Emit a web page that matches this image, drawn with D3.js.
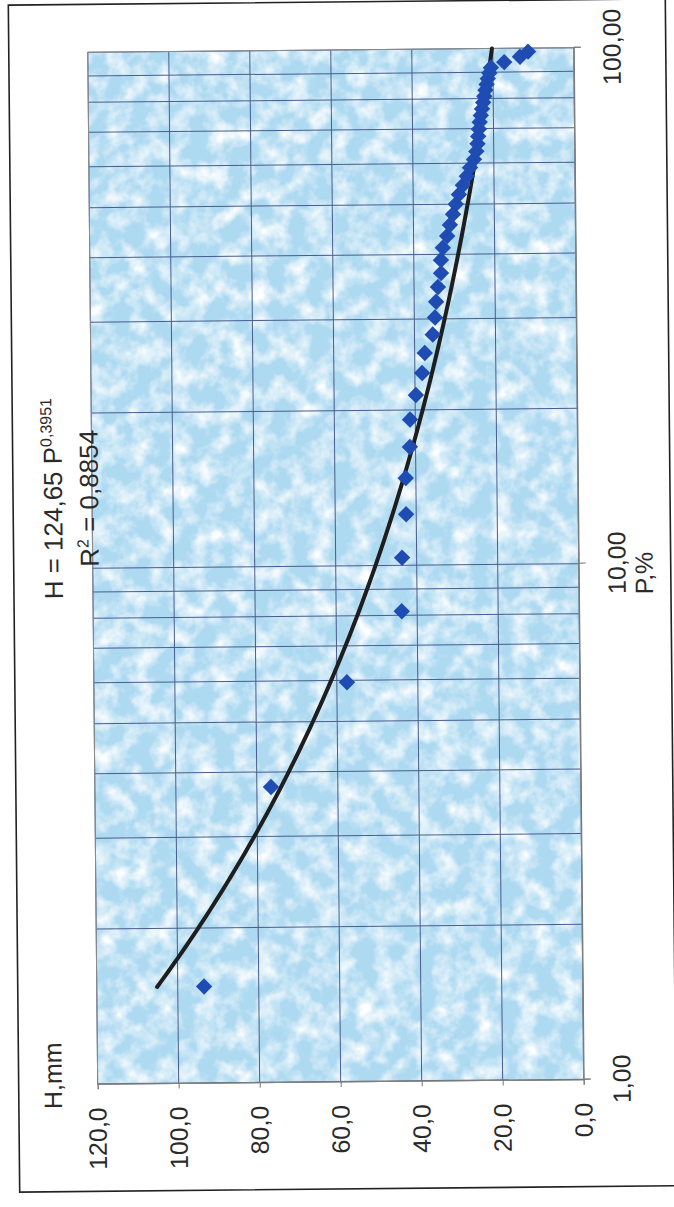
<!DOCTYPE html>
<html>
<head>
<meta charset="utf-8">
<script src="https://cdn.jsdelivr.net/npm/d3@7"></script>
<style>
  body { margin: 0; background: #fff; }
  text { font-family: "Liberation Sans", Arial, sans-serif; fill: #2a2a2a; }
</style>
</head>
<body>
<div class="canvas"></div>
<script>
// exceedance probability P,%
const pValues = [1.54, 3.74, 5.95, 8.15, 10.35, 12.56, 14.76, 16.96, 19.16, 21.37,
  23.57, 25.77, 27.97, 30.18, 32.38, 34.58, 36.78, 38.99, 41.19, 43.39,
  45.59, 47.80, 50.00, 52.20, 54.41, 56.61, 58.81, 61.01, 63.22, 65.42,
  67.62, 69.82, 72.03, 74.23, 76.43, 78.63, 80.84, 83.04, 85.24, 87.44,
  89.65, 91.85, 94.05, 96.26, 98.46];
// H,mm for each point
const hValues = [93.5, 76.5, 57.5, 43.8, 43.6, 42.5, 42.5, 41.4, 41.3, 39.8,
  38.2, 37.5, 35.5, 34.9, 34.6, 34.1, 33.3, 33.3, 32.8, 31.7,
  31.0, 30.2, 29.5, 28.7, 27.7, 26.7, 25.9, 24.9, 24.3, 24.0,
  23.8, 23.6, 23.4, 23.1, 22.8, 22.5, 22.2, 21.9, 21.6, 21.3,
  20.9, 20.5, 17.2, 13.3, 11.3];

const pTicks = [1, 10, 100];
const hTicks = [0, 20, 40, 60, 80, 100, 120];

// power trendline as printed on the chart
const trendCoef = 124.65;
const trendExp = -0.3951;
const trendLabel = ['H = 124,65 P', '0,3951'];
const r2Label = ['R', '2', ' = 0,8854'];

const dims = { width: 1032, height: 486 };   // width = P axis, height = H axis
const origin = { x: 93, y: 1082 };           // where P=1, H=120 sits on the page

const locale = d3.formatLocale({ decimal: ',', thousands: ' ', grouping: [3], currency: ['', ''] });
const fmtP = locale.format('.2f');
const fmtH = locale.format('.1f');

const svg = d3.select('.canvas')
  .append('svg')
  .attr('width', 674)
  .attr('height', 1207);

// mottled background for the plot area
const defs = svg.append('defs');
const filt = defs.append('filter')
  .attr('id', 'clouds')
  .attr('x', 0).attr('y', 0).attr('width', '100%').attr('height', '100%');
filt.append('feTurbulence')
  .attr('type', 'fractalNoise')
  .attr('baseFrequency', 0.05)
  .attr('numOctaves', 4)
  .attr('seed', 7);
filt.append('feColorMatrix')
  .attr('type', 'matrix')
  .attr('values', '0 0 0 0 1  0 0 0 0 1  0 0 0 0 1  2.2 0 0 0 -0.85');

// the scan is tilted a little
const page = svg.append('g')
  .attr('transform', 'rotate(-0.55, 337, 596)');

page.append('rect')
  .attr('x', 14).attr('y', 2)
  .attr('width', 657).attr('height', 1187)
  .attr('fill', 'none')
  .attr('stroke', '#222')
  .attr('stroke-width', 1.6);

// chart is drawn lying on its side
const graph = page.append('g')
  .attr('transform', `translate(${origin.x}, ${origin.y}) rotate(-90)`);

const x = d3.scaleLog().domain([1, 100]).range([0, dims.width]);
const y = d3.scaleLinear().domain([0, 120]).range([dims.height, 0]);

graph.append('rect')
  .attr('width', dims.width).attr('height', dims.height)
  .attr('fill', '#add9f1');
graph.append('rect')
  .attr('width', dims.width).attr('height', dims.height)
  .attr('filter', 'url(#clouds)');

// gridlines
graph.append('g')
  .selectAll('line')
  .data(x.ticks())
  .enter().append('line')
    .attr('x1', d => x(d)).attr('x2', d => x(d))
    .attr('y1', 0).attr('y2', dims.height)
    .attr('stroke', '#4a5d8c')
    .attr('stroke-width', 1);

graph.append('g')
  .selectAll('line')
  .data(hTicks)
  .enter().append('line')
    .attr('x1', 0).attr('x2', dims.width)
    .attr('y1', d => y(d)).attr('y2', d => y(d))
    .attr('stroke', '#4a5d8c')
    .attr('stroke-width', 1);

graph.append('rect')
  .attr('width', dims.width).attr('height', dims.height)
  .attr('fill', 'none')
  .attr('stroke', '#8c8c8c');

// axes
const xAxis = d3.axisBottom(x)
  .tickValues(pTicks)
  .tickFormat(fmtP)
  .tickSize(7)
  .tickPadding(22);

const yAxis = d3.axisLeft(y)
  .tickValues(hTicks)
  .tickFormat(fmtH)
  .tickSize(5)
  .tickPadding(18);

const xAxisGroup = graph.append('g')
  .attr('transform', `translate(0, ${dims.height})`)
  .call(xAxis);
const yAxisGroup = graph.append('g').call(yAxis);

[xAxisGroup, yAxisGroup].forEach(g => {
  g.select('.domain').attr('stroke', '#777');
  g.selectAll('.tick line').attr('stroke', '#777');
  g.selectAll('text')
    .attr('font-size', 25)
    .attr('fill', '#2a2a2a')
    .style('font-family', '"Liberation Sans", Arial, sans-serif');
});

// trendline
const p0 = d3.min(pValues);
const trendP = d3.range(0, 121).map(i => p0 * Math.pow(100 / p0, i / 120));
const trendLine = d3.line()
  .x(p => x(p))
  .y(p => y(trendCoef * Math.pow(p, trendExp)));

graph.append('path')
  .datum(trendP)
  .attr('d', trendLine)
  .attr('fill', 'none')
  .attr('stroke', '#1e1e1e')
  .attr('stroke-width', 4)
  .attr('stroke-linecap', 'round');

// points
const data = pValues.map((p, i) => ({ p, h: hValues[i] }));
const diamond = d3.symbol(d3.symbolSquare, 135);

graph.append('g')
  .selectAll('path')
  .data(data)
  .enter().append('path')
    .attr('d', diamond)
    .attr('transform', d => `translate(${x(d.p)}, ${y(d.h)}) rotate(45)`)
    .attr('fill', '#1f4cb3');

// labels
const eq = graph.append('text')
  .attr('x', 586).attr('y', -30)
  .attr('text-anchor', 'middle')
  .attr('font-size', 26);
eq.append('tspan').text(trendLabel[0]);
eq.append('tspan').attr('dy', -10).attr('font-size', 16).text(trendLabel[1]);

const r2 = graph.append('text')
  .attr('x', 586).attr('y', 6)
  .attr('text-anchor', 'middle')
  .attr('font-size', 26);
r2.append('tspan').text(r2Label[0]);
r2.append('tspan').attr('dy', -10).attr('font-size', 16).text(r2Label[1]);
r2.append('tspan').attr('dy', 10).text(r2Label[2]);

graph.append('text')
  .attr('x', 9).attr('y', -36)
  .attr('text-anchor', 'middle')
  .attr('font-size', 25)
  .text('H,mm');

graph.append('text')
  .attr('x', 506).attr('y', dims.height + 74)
  .attr('text-anchor', 'middle')
  .attr('font-size', 25)
  .text('P,%');
</script>
</body>
</html>
